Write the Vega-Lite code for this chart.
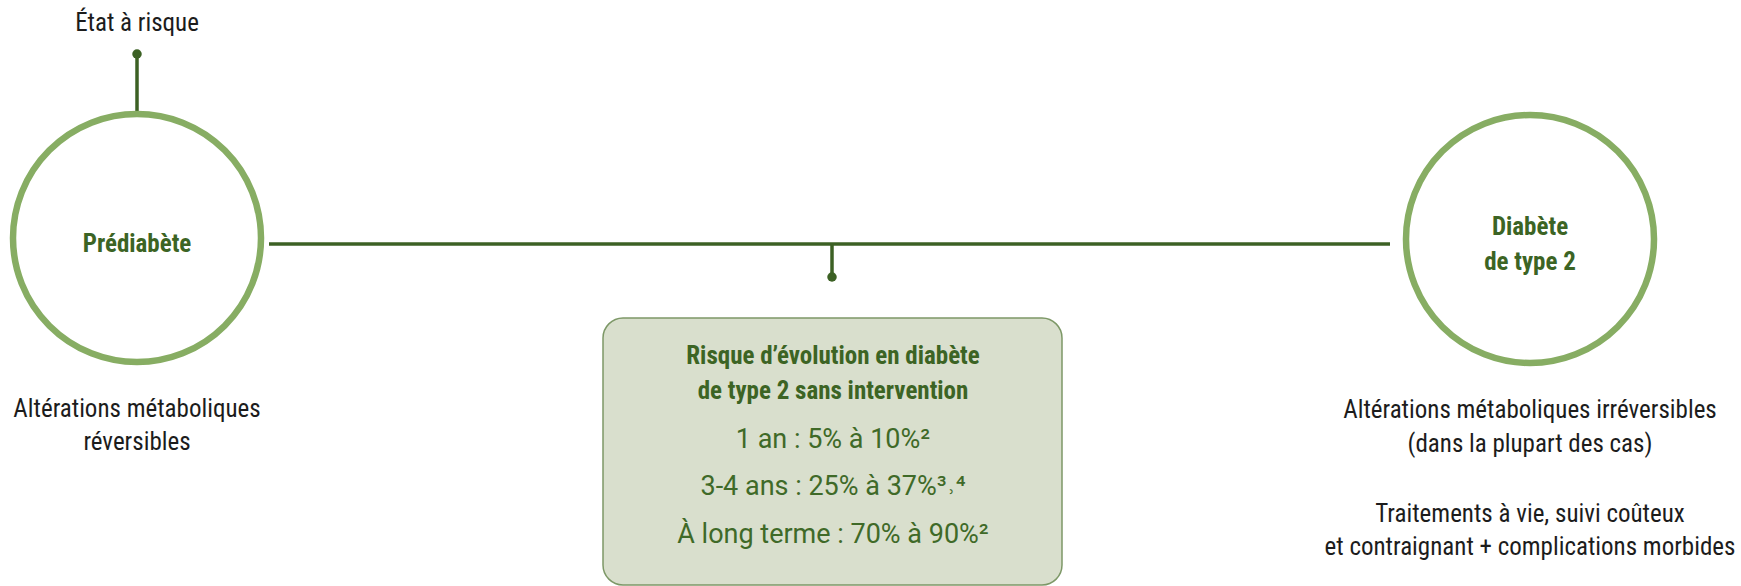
{
  "$schema": "https://vega.github.io/schema/vega-lite/v6.json",
  "width": 1741,
  "height": 586,
  "padding": 0,
  "autosize": "none",
  "background": "white",
  "config": {"view": {"stroke": null}},
  "datasets": {
    "circles": [{"x": 137, "y": 238}, {"x": 1530, "y": 239}],
    "rules": [
      {"x": 137, "y": 54, "x2": 137, "y2": 112},
      {"x": 269, "y": 244, "x2": 1390, "y2": 244},
      {"x": 832, "y": 244, "x2": 832, "y2": 277}
    ],
    "dots": [{"x": 137, "y": 54}, {"x": 832, "y": 277}],
    "box": [{"x": 603, "y": 318, "x2": 1062, "y2": 585}],
    "greenBold": [
      {"x": 137, "y": 252, "t": "Prédiabète"},
      {"x": 1530, "y": 235, "t": "Diabète"},
      {"x": 1530, "y": 270, "t": "de type 2"},
      {"x": 833, "y": 364, "t": "Risque d’évolution en diabète"},
      {"x": 833, "y": 399, "t": "de type 2 sans intervention"}
    ],
    "greenReg": [
      {"x": 833, "y": 448, "t": "1 an : 5% à 10%²"},
      {"x": 833, "y": 495, "t": "3-4 ans : 25% à 37%³˒⁴"},
      {"x": 833, "y": 543, "t": "À long terme : 70% à 90%²"}
    ],
    "black": [
      {"x": 137, "y": 31, "t": "État à risque"},
      {"x": 137, "y": 417, "t": "Altérations métaboliques"},
      {"x": 137, "y": 450, "t": "réversibles"},
      {"x": 1530, "y": 418, "t": "Altérations métaboliques irréversibles"},
      {"x": 1530, "y": 452, "t": "(dans la plupart des cas)"},
      {"x": 1530, "y": 522, "t": "Traitements à vie, suivi coûteux"},
      {"x": 1530, "y": 555, "t": "et contraignant + complications morbides"}
    ]
  },
  "encoding": {
    "x": {"field": "x", "type": "quantitative", "axis": null, "scale": {"domain": [0, 1741], "nice": false, "zero": false}},
    "y": {"field": "y", "type": "quantitative", "axis": null, "scale": {"domain": [586, 0], "nice": false, "zero": false}}
  },
  "layer": [
    {
      "data": {"name": "box"},
      "mark": {"type": "rect", "fill": "#d9dfcd", "stroke": "#7d9867", "strokeWidth": 1.5, "cornerRadius": 20},
      "encoding": {"x2": {"field": "x2"}, "y2": {"field": "y2"}}
    },
    {
      "data": {"name": "rules"},
      "mark": {"type": "rule", "color": "#3c6124", "strokeWidth": 3.5},
      "encoding": {"x2": {"field": "x2"}, "y2": {"field": "y2"}}
    },
    {
      "data": {"name": "dots"},
      "mark": {"type": "point", "shape": "circle", "filled": true, "color": "#3c6124", "size": 90, "opacity": 1},
      "encoding": {}
    },
    {
      "data": {"name": "circles"},
      "mark": {"type": "point", "shape": "circle", "filled": false, "fill": "white", "fillOpacity": 0, "stroke": "#87ad63", "strokeWidth": 6.5, "size": 61504, "opacity": 1},
      "encoding": {}
    },
    {
      "data": {"name": "greenBold"},
      "mark": {"type": "text", "font": "Roboto Condensed, Liberation Sans Narrow, Roboto", "fontWeight": "bold", "fontSize": 25, "color": "#3c6424", "align": "center", "baseline": "alphabetic"},
      "encoding": {"text": {"field": "t"}}
    },
    {
      "data": {"name": "greenReg"},
      "mark": {"type": "text", "font": "Roboto", "fontSize": 27, "color": "#3f6a28", "align": "center", "baseline": "alphabetic"},
      "encoding": {"text": {"field": "t"}}
    },
    {
      "data": {"name": "black"},
      "mark": {"type": "text", "font": "Roboto Condensed, Liberation Sans Narrow, Roboto", "fontSize": 25, "color": "#1c1c1c", "align": "center", "baseline": "alphabetic"},
      "encoding": {"text": {"field": "t"}}
    }
  ]
}
